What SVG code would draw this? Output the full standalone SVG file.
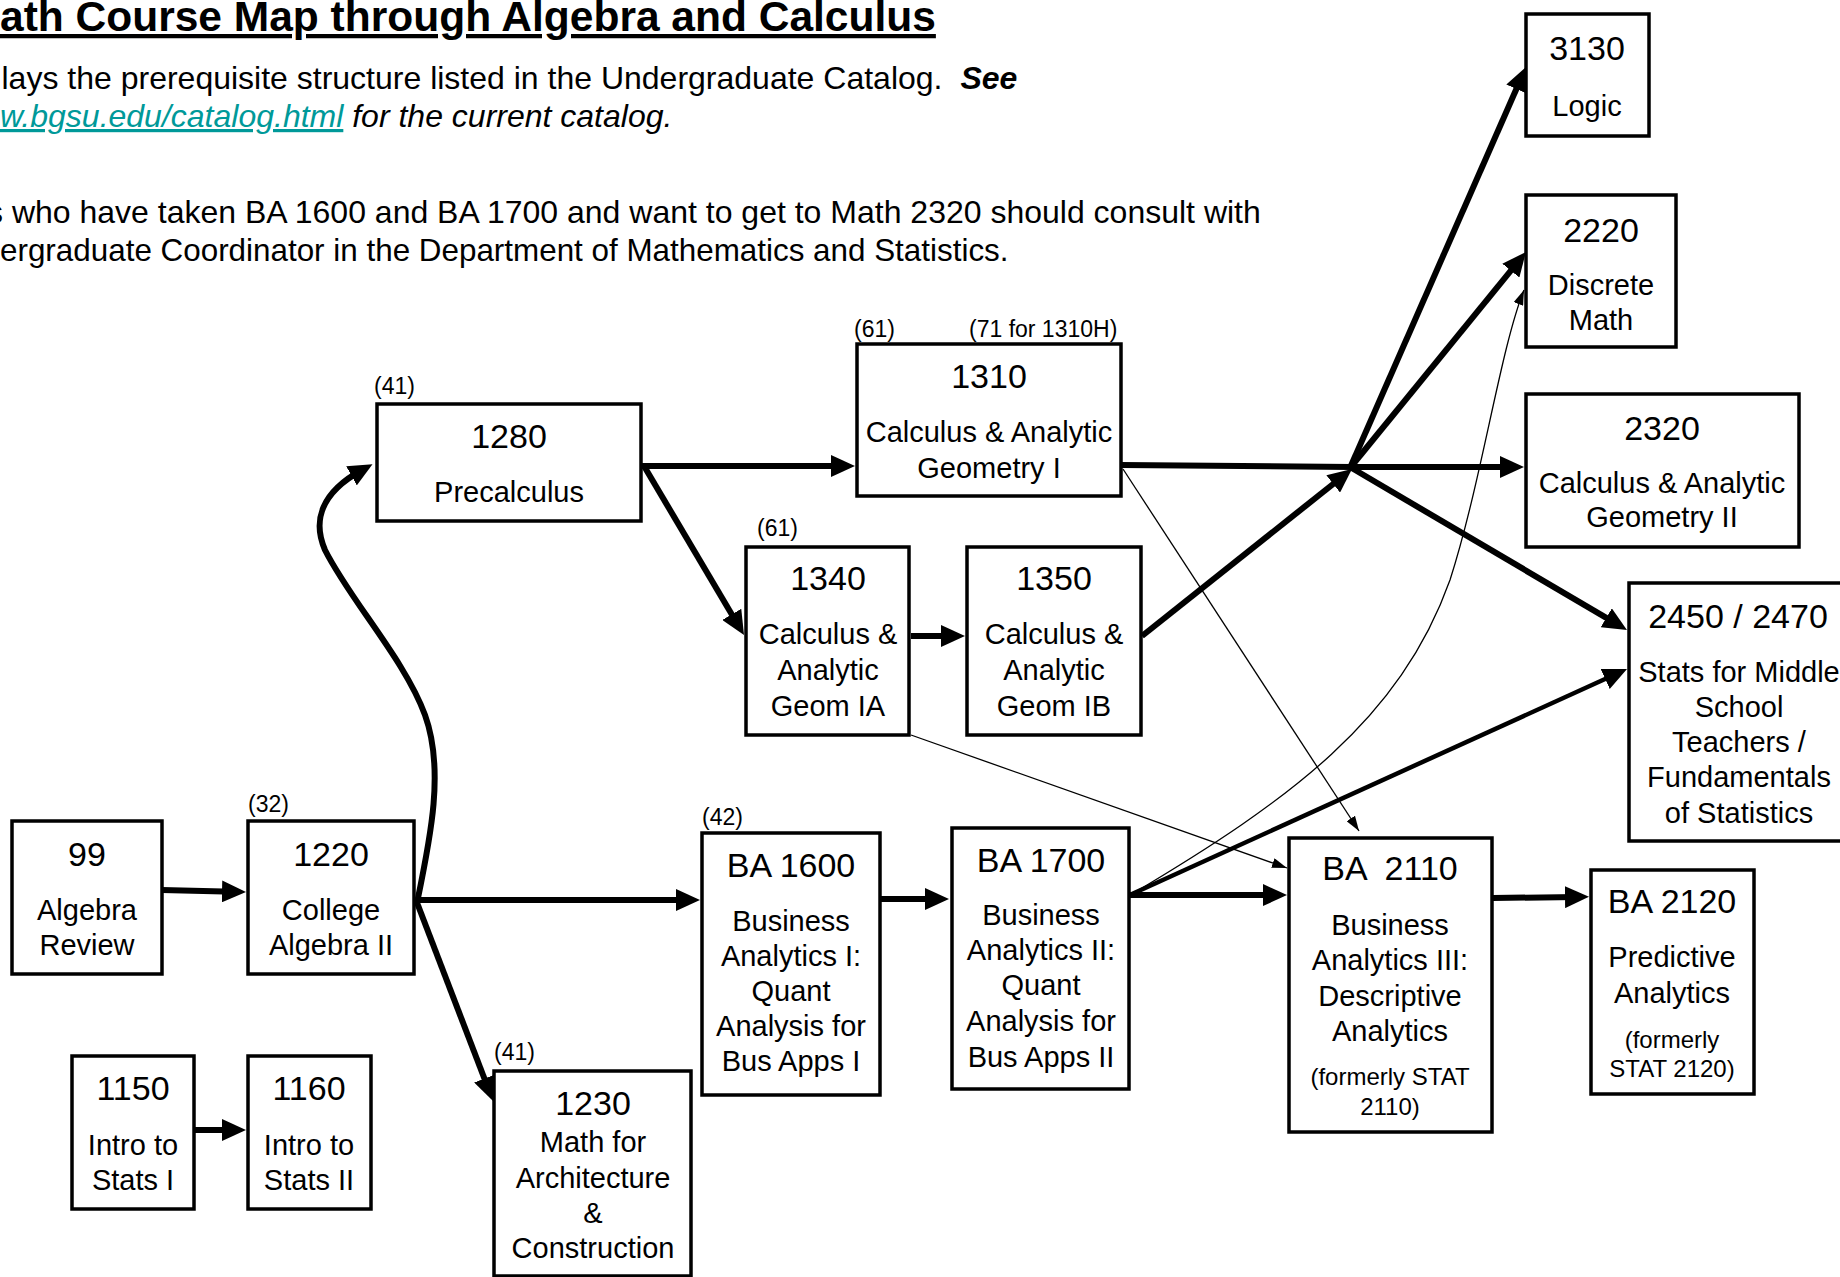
<svg xmlns="http://www.w3.org/2000/svg" width="1840" height="1277" viewBox="0 0 1840 1277">
<style>
.n{fill:#fff;stroke:#000;stroke-width:3.5}
text{font-family:"Liberation Sans",Arial,Helvetica,sans-serif;fill:#000}
.num{font-size:34px;text-anchor:middle}
.lab{font-size:29px;text-anchor:middle}
.sm{font-size:24px;text-anchor:middle}
.pre{font-size:23px}
.hd{font-size:32px}
.thick{stroke:#000;stroke-width:6;fill:none;marker-end:url(#ah)}
.thin{stroke:#000;stroke-width:1.3;fill:none;marker-end:url(#ahs)}
.bare{stroke:#000;stroke-width:6;fill:none}
</style>
<defs>
<marker id="ah" markerUnits="userSpaceOnUse" markerWidth="24" markerHeight="22" viewBox="0 0 24 22" refX="12" refY="11" orient="auto"><path d="M0,0 L24,11 L0,22 z" fill="#000"/></marker>
<marker id="ahs" markerUnits="userSpaceOnUse" markerWidth="15" markerHeight="10" viewBox="0 0 15 10" refX="15" refY="5" orient="auto"><path d="M0,0 L15,5 L0,10 z" fill="#000"/></marker>
</defs>
<rect width="1840" height="1277" fill="#fff"/>

<g id="header">
<text x="0" y="31" font-size="42.5" font-weight="bold" text-decoration="underline">ath Course Map through Algebra and Calculus</text>
<text class="hd" x="1.5" y="89">lays the prerequisite structure listed in the Undergraduate Catalog.<tspan dx="18" font-weight="bold" font-style="italic">See</tspan></text>
<text class="hd" x="0" y="127" font-style="italic"><tspan fill="#009999" text-decoration="underline">w.bgsu.edu/catalog.html</tspan> for the current catalog.</text>
<text class="hd" x="-13" y="223">s who have taken BA 1600 and BA 1700 and want to get to Math 2320 should consult with</text>
<text x="0" y="261" font-size="31.4">ergraduate Coordinator in the Department of Mathematics and Statistics.</text>
</g>

<g id="connectors">
<line class="thick" x1="162" y1="890" x2="234" y2="891.7"/>
<line class="thick" x1="194" y1="1130" x2="234" y2="1130"/>
<line class="thick" x1="416" y1="900" x2="688" y2="900"/>
<line class="thick" x1="416" y1="900" x2="488.7" y2="1089.8"/>
<path class="thick" d="M417,903 C430,840 445,770 425,715 C405,660 350,600 325,550 C312,520 322,492 362,470"/>
<line class="thick" x1="642" y1="466" x2="843" y2="466"/>
<line class="thick" x1="644" y1="466" x2="737.9" y2="624.7"/>
<line class="thick" x1="911" y1="636" x2="953" y2="636"/>
<line class="thick" x1="1142" y1="636" x2="1342.6" y2="476.5"/>
<line class="bare" x1="1121" y1="465" x2="1352" y2="467"/>
<line class="thick" x1="1350" y1="467" x2="1512" y2="467"/>
<line class="thick" x1="1350" y1="468" x2="1521.2" y2="78"/>
<line class="thick" x1="1350" y1="468" x2="1518.4" y2="261.3"/>
<line class="thick" x1="1350" y1="467" x2="1616.6" y2="623.9"/>
<line class="thick" x1="1132" y1="894" x2="1616.1" y2="674" style="stroke-width:4.5"/>
<line class="thick" x1="1130" y1="895" x2="1275" y2="895"/>
<line class="thick" x1="881" y1="899" x2="937" y2="899"/>
<line class="thick" x1="1493" y1="898" x2="1577" y2="897"/>
<line class="thin" x1="1123" y1="469" x2="1359" y2="831"/>
<line class="thin" x1="911" y1="735" x2="1287" y2="868"/>
<path class="thin" d="M1132,894 C1290,800 1400,720 1450,580 C1482,480 1500,350 1524,290"/>
</g>

<g id="n3130">
<rect class="n" x="1526" y="14" width="123" height="122"/>
<text class="num" x="1587" y="60">3130</text>
<text class="lab" x="1587" y="116">Logic</text>
</g>

<g id="n2220">
<rect class="n" x="1526" y="195" width="150" height="152"/>
<text class="num" x="1601" y="242">2220</text>
<text class="lab" x="1601" y="295">Discrete</text>
<text class="lab" x="1601" y="330">Math</text>
</g>

<g id="n2320">
<rect class="n" x="1526" y="394" width="273" height="153"/>
<text class="num" x="1662" y="440">2320</text>
<text class="lab" x="1662" y="493">Calculus &amp; Analytic</text>
<text class="lab" x="1662" y="527">Geometry II</text>
</g>

<g id="n2450">
<rect class="n" x="1629" y="583" width="230" height="258"/>
<text class="num" x="1738" y="628">2450 / 2470</text>
<text class="lab" x="1739" y="682">Stats for Middle</text>
<text class="lab" x="1739" y="717">School</text>
<text class="lab" x="1739" y="752">Teachers /</text>
<text class="lab" x="1739" y="787">Fundamentals</text>
<text class="lab" x="1739" y="823">of Statistics</text>
</g>

<g id="n1310">
<text class="pre" x="854" y="337">(61)</text>
<text class="pre" x="969" y="337">(71 for 1310H)</text>
<rect class="n" x="857" y="344" width="264" height="152"/>
<text class="num" x="989" y="388">1310</text>
<text class="lab" x="989" y="442">Calculus &amp; Analytic</text>
<text class="lab" x="989" y="478">Geometry I</text>
</g>

<g id="n1280">
<text class="pre" x="374" y="394">(41)</text>
<rect class="n" x="377" y="404" width="264" height="117"/>
<text class="num" x="509" y="448">1280</text>
<text class="lab" x="509" y="502">Precalculus</text>
</g>

<g id="n1340">
<text class="pre" x="757" y="536">(61)</text>
<rect class="n" x="746" y="547" width="163" height="188"/>
<text class="num" x="828" y="590">1340</text>
<text class="lab" x="828" y="644">Calculus &amp;</text>
<text class="lab" x="828" y="680">Analytic</text>
<text class="lab" x="828" y="716">Geom IA</text>
</g>

<g id="n1350">
<rect class="n" x="967" y="547" width="174" height="188"/>
<text class="num" x="1054" y="590">1350</text>
<text class="lab" x="1054" y="644">Calculus &amp;</text>
<text class="lab" x="1054" y="680">Analytic</text>
<text class="lab" x="1054" y="716">Geom IB</text>
</g>

<g id="n99">
<rect class="n" x="12" y="821" width="150" height="153"/>
<text class="num" x="87" y="866">99</text>
<text class="lab" x="87" y="920">Algebra</text>
<text class="lab" x="87" y="955">Review</text>
</g>

<g id="n1220">
<text class="pre" x="248" y="812">(32)</text>
<rect class="n" x="248" y="821" width="166" height="153"/>
<text class="num" x="331" y="866">1220</text>
<text class="lab" x="331" y="920">College</text>
<text class="lab" x="331" y="955">Algebra II</text>
</g>

<g id="n1150">
<rect class="n" x="72" y="1056" width="122" height="153"/>
<text class="num" x="133" y="1100">1150</text>
<text class="lab" x="133" y="1155">Intro to</text>
<text class="lab" x="133" y="1190">Stats I</text>
</g>

<g id="n1160">
<rect class="n" x="248" y="1056" width="123" height="153"/>
<text class="num" x="309" y="1100">1160</text>
<text class="lab" x="309" y="1155">Intro to</text>
<text class="lab" x="309" y="1190">Stats II</text>
</g>

<g id="n1230">
<text class="pre" x="494" y="1060">(41)</text>
<rect class="n" x="494" y="1071" width="197" height="205"/>
<text class="num" x="593" y="1115">1230</text>
<text class="lab" x="593" y="1152">Math for</text>
<text class="lab" x="593" y="1188">Architecture</text>
<text class="lab" x="593" y="1223">&amp;</text>
<text class="lab" x="593" y="1258">Construction</text>
</g>

<g id="nBA1600">
<text class="pre" x="702" y="825">(42)</text>
<rect class="n" x="702" y="833" width="178" height="262"/>
<text class="num" x="791" y="877">BA 1600</text>
<text class="lab" x="791" y="931">Business</text>
<text class="lab" x="791" y="966">Analytics I:</text>
<text class="lab" x="791" y="1001">Quant</text>
<text class="lab" x="791" y="1036">Analysis for</text>
<text class="lab" x="791" y="1071">Bus Apps I</text>
</g>

<g id="nBA1700">
<rect class="n" x="952" y="828" width="177" height="261"/>
<text class="num" x="1041" y="872">BA 1700</text>
<text class="lab" x="1041" y="925">Business</text>
<text class="lab" x="1041" y="960">Analytics II:</text>
<text class="lab" x="1041" y="995">Quant</text>
<text class="lab" x="1041" y="1031">Analysis for</text>
<text class="lab" x="1041" y="1067">Bus Apps II</text>
</g>

<g id="nBA2110">
<rect class="n" x="1289" y="838" width="203" height="294"/>
<text class="num" x="1390" y="880" xml:space="preserve">BA  2110</text>
<text class="lab" x="1390" y="935">Business</text>
<text class="lab" x="1390" y="970">Analytics III:</text>
<text class="lab" x="1390" y="1006">Descriptive</text>
<text class="lab" x="1390" y="1041">Analytics</text>
<text class="sm" x="1390" y="1085">(formerly STAT</text>
<text class="sm" x="1390" y="1115">2110)</text>
</g>

<g id="nBA2120">
<rect class="n" x="1591" y="870" width="163" height="224"/>
<text class="num" x="1672" y="913">BA 2120</text>
<text class="lab" x="1672" y="967">Predictive</text>
<text class="lab" x="1672" y="1003">Analytics</text>
<text class="sm" x="1672" y="1048">(formerly</text>
<text class="sm" x="1672" y="1077">STAT 2120)</text>
</g>
</svg>
